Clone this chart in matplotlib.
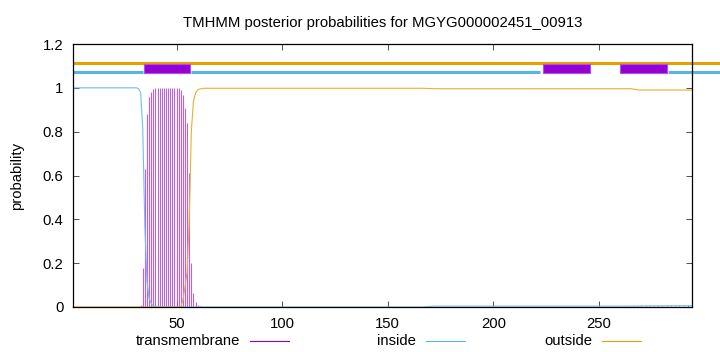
import matplotlib
matplotlib.use("Agg")
import matplotlib.pyplot as plt
from matplotlib.lines import Line2D
import numpy as np

plt.rcParams['font.family'] = ['Liberation Sans', 'DejaVu Sans']

seq_len = 294
title = "TMHMM posterior probabilities for MGYG000002451_00913"

# transmembrane posterior (impulses), per residue
tm_res = [33, 34, 35, 36, 37, 38, 39, 40, 41, 42, 43, 44, 45, 46, 47, 48, 49,
          50, 51, 52, 53, 54, 55, 56, 57, 58, 59, 60, 61]
tm_val = [0.01, 0.18, 0.63, 0.88, 0.96, 0.983, 0.995, 1.0, 1.0, 1.0, 1.0, 1.0,
          1.0, 1.0, 1.0, 1.0, 1.0, 1.0, 1.0, 0.99, 0.968, 0.907, 0.839, 0.61,
          0.20, 0.063, 0.024, 0.008, 0.003]
# small tail near the C-terminus
tm_tail_res = [266, 268, 270, 272, 274, 276, 278, 280, 282, 284, 286, 288, 290, 292, 294]
tm_tail_val = [0.004, 0.004, 0.005, 0.005, 0.005, 0.005, 0.005, 0.005, 0.005,
               0.005, 0.005, 0.006, 0.006, 0.007, 0.008]

# inside posterior (line)
inside_res = [1, 31, 32, 33, 34, 35, 36, 37, 38, 39, 41, 167, 172, 265, 270, 294]
inside_val = [1.0, 1.0, 0.997, 0.98, 0.82, 0.37, 0.12, 0.04, 0.017, 0.005, 0.0,
              0.0, 0.004, 0.004, 0.005, 0.006]

# outside posterior (line)
outside_res = [1, 52, 53, 54, 55, 56, 57, 58, 59, 60, 61, 63, 167, 172, 265, 269, 294]
outside_val = [0.0, 0.0, 0.03, 0.09, 0.16, 0.39, 0.80, 0.937, 0.976, 0.99, 0.995,
               0.998, 0.998, 0.996, 0.996, 0.99, 0.99]

# predicted topology bars at the top
tm_segments = [(34.5, 56.5), (223.5, 245.5), (260.0, 282.0)]
inside_segments = [(1, 34.3), (56.7, 222.0), (282.5, 310)]
outside_segments = [(1, 310)]

purple = '#9400D3'
blue = '#56B4E9'
orange = '#E69F00'
fs = 10.7

fig = plt.figure(figsize=(7.2, 3.52), dpi=100)
ax = fig.add_axes([73 / 720, 1 - 307 / 352, 619 / 720, 263 / 352])

ax.vlines(tm_res, 0, tm_val, color='#A83BE0', lw=0.8, alpha=0.8)
ax.vlines(tm_tail_res, 0, tm_tail_val, color='#A83BE0', lw=0.8, alpha=0.8)
ax.plot(inside_res, inside_val, color='#6EC0EE', lw=0.8)
ax.plot(outside_res, outside_val, color='#EBAE30', lw=0.8)

for a, b in outside_segments:
    ax.plot([a, b], [1.112, 1.112], color=orange, lw=2.2, clip_on=False,
            solid_capstyle='butt')
for a, b in inside_segments:
    ax.plot([a, b], [1.073, 1.073], color=blue, lw=2.2, clip_on=False,
            solid_capstyle='butt')
for a, b in tm_segments:
    ax.fill_between([a, b], 1.068, 1.109, color=purple, edgecolor='#B050E8',
                    lw=0.8, zorder=3)

ax.set_xlim(1, seq_len)
ax.set_ylim(0, 1.2)
ax.set_xticks([50, 100, 150, 200, 250])
ax.set_yticks([0, 0.2, 0.4, 0.6, 0.8, 1, 1.2])
ax.set_yticklabels(['0', '0.2', '0.4', '0.6', '0.8', '1', '1.2'])
ax.tick_params(direction='in', length=4, width=0.6, top=True, right=True,
               labelsize=fs, pad=7, colors='#333333', labelcolor='black')
for s in ax.spines.values():
    s.set_linewidth(0.9)

ax.set_ylabel('probability', fontsize=fs, labelpad=13)
ax.set_title(title, fontsize=fs, pad=12)

# legend below the axis, gnuplot style
legend_items = [('transmembrane', purple, 240), ('inside', blue, 416),
                ('outside', orange, 592)]
for name, col, xr in legend_items:
    fig.text(xr / 720, 1 - 341 / 352, name, ha='right', va='center', fontsize=fs)
    fig.add_artist(Line2D([(xr + 10) / 720, (xr + 49) / 720],
                          [1 - 341 / 352, 1 - 341 / 352], color=col, lw=0.8))

fig.savefig('out.png', dpi=100)
